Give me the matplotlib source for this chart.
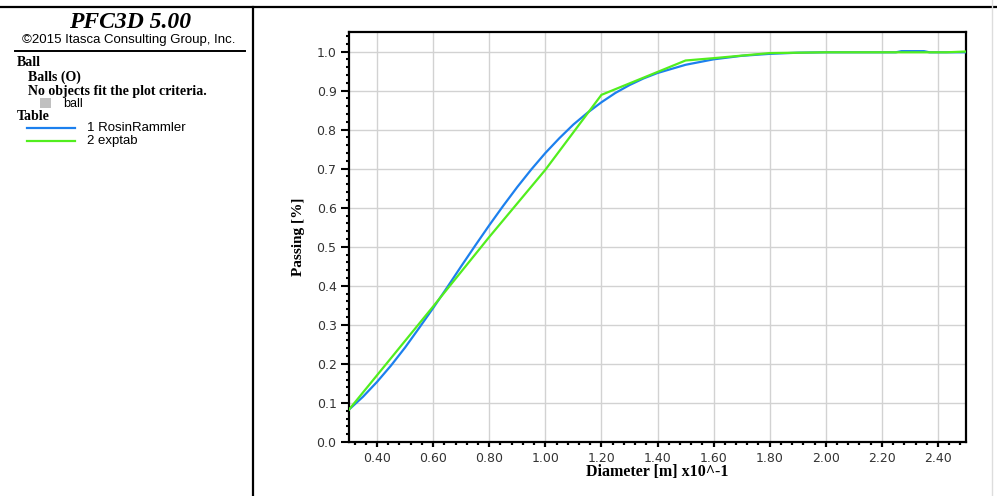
import matplotlib
matplotlib.use("Agg")
import matplotlib.pyplot as plt
from matplotlib.lines import Line2D
from matplotlib.patches import Rectangle
from matplotlib.ticker import MultipleLocator, FormatStrFormatter

# ---- data ----
rr_diam = [0.30, 0.35, 0.40, 0.45, 0.50, 0.55, 0.60, 0.65, 0.70, 0.75, 0.80,
           0.85, 0.90, 0.95, 1.00, 1.05, 1.10, 1.15, 1.20, 1.25, 1.30, 1.35,
           1.40, 1.50, 1.60, 1.70, 1.80, 1.90, 2.00, 2.25, 2.27, 2.35, 2.37,
           2.50]
rr_pass = [0.083, 0.116, 0.154, 0.196, 0.242, 0.292, 0.343, 0.396, 0.450,
           0.503, 0.555, 0.605, 0.653, 0.698, 0.740, 0.778, 0.813, 0.843,
           0.870, 0.894, 0.914, 0.931, 0.945, 0.966, 0.980, 0.989, 0.994,
           0.997, 0.998, 0.998, 1.001, 1.001, 0.998, 0.998]

exp_diam = [0.30, 0.60, 0.80, 1.00, 1.20, 1.50, 1.60, 1.80, 2.00, 2.43, 2.50]
exp_pass = [0.083, 0.347, 0.525, 0.697, 0.889, 0.977, 0.983, 0.996, 0.998,
            0.998, 1.000]

series_labels = ["1 RosinRammler", "2 exptab"]
x_label = "Diameter [m] x10^-1"
y_label = "Passing [%]"

blue = "#1c80ee"
green = "#52ee1e"

W, H = 997, 496
fig = plt.figure(figsize=(W / 100, H / 100), dpi=100)


def fx(px):
    return px / W


def fy(py):
    return 1 - py / H


ax = fig.add_axes([fx(349), fy(442), fx(966) - fx(349), fy(32) - fy(442)])
ax.plot(rr_diam, rr_pass, color=blue, lw=1.6, zorder=3)
ax.plot(exp_diam, exp_pass, color=green, lw=1.6, zorder=4)

ax.set_xlim(0.30, 2.50)
ax.set_ylim(0.0, 1.05)
ax.xaxis.set_major_locator(MultipleLocator(0.2))
ax.xaxis.set_minor_locator(MultipleLocator(0.04))
ax.yaxis.set_major_locator(MultipleLocator(0.1))
ax.yaxis.set_minor_locator(MultipleLocator(0.02))
ax.xaxis.set_major_formatter(FormatStrFormatter("%.2f"))
ax.yaxis.set_major_formatter(FormatStrFormatter("%.1f"))
ax.grid(True, which="major", color="#d2d2d2", lw=1.0)
ax.set_axisbelow(True)
for s in ax.spines.values():
    s.set_linewidth(1.6)
    s.set_color("black")

ax.tick_params(axis="y", which="major", direction="out", length=6, width=1.5,
               pad=3, labelsize=9, labelcolor="#333333")
ax.tick_params(axis="y", which="minor", direction="out", length=2.5, width=1.5)
ax.tick_params(axis="x", which="major", direction="out", length=3.5, width=1.6,
               pad=3.5, labelsize=9, labelcolor="#333333")
ax.tick_params(axis="x", which="minor", direction="out", length=2, width=1.6)

ax.set_xlabel(x_label, family="Liberation Serif", weight="bold", fontsize=11.5,
              va="center")
ax.xaxis.set_label_coords(0.5, (442 - 472) / 410)
ax.set_ylabel(y_label, family="Liberation Serif", weight="bold", fontsize=11,
              va="center")
ax.yaxis.set_label_coords((298 - 349) / 617, 0.5)

# ---- left info panel ----
tr = fig.transFigure
fig.add_artist(Line2D([fx(0), fx(W)], [fy(7), fy(7)], color="black", lw=1.6,
                      transform=tr))
fig.add_artist(Line2D([fx(253), fx(253)], [fy(7), fy(H)], color="black",
                      lw=1.6, transform=tr))
fig.add_artist(Line2D([fx(15), fx(245)], [fy(51), fy(51)], color="black",
                      lw=1.4, transform=tr))
fig.add_artist(Line2D([fx(992), fx(992)], [fy(0), fy(H)], color="#dddddd",
                      lw=1.0, transform=tr))

fig.text(fx(130), fy(23), "PFC3D 5.00", family="Liberation Serif",
         weight="bold", style="italic", fontsize=17, ha="center", va="center")
fig.text(fx(129), fy(40), "\u00a92015 Itasca Consulting Group, Inc.",
         family="Liberation Sans", fontsize=9.5, ha="center", va="center")

serif_kw = dict(family="Liberation Serif", weight="bold", fontsize=10,
                va="center", ha="left")
fig.text(fx(17), fy(62), "Ball", **serif_kw)
fig.text(fx(28), fy(77), "Balls (O)", **serif_kw)
fig.text(fx(28), fy(91), "No objects fit the plot criteria.", **serif_kw)
fig.add_artist(Rectangle((fx(40), fy(108)), fx(11), fy(98) - fy(108),
                         facecolor="#c0c0c0", edgecolor="none", transform=tr))
fig.text(fx(63), fy(104), "ball", family="Liberation Sans", fontsize=9,
         va="center", ha="left")
fig.text(fx(17), fy(117), "Table", **serif_kw)

fig.add_artist(Line2D([fx(27), fx(75)], [fy(128), fy(128)], color=blue,
                      lw=1.6, transform=tr))
fig.text(fx(87), fy(128), series_labels[0], family="Liberation Sans",
         fontsize=9.5, va="center", ha="left")
fig.add_artist(Line2D([fx(27), fx(75)], [fy(141), fy(141)], color=green,
                      lw=1.6, transform=tr))
fig.text(fx(87), fy(141), series_labels[1], family="Liberation Sans",
         fontsize=9.5, va="center", ha="left")

fig.savefig("out.png", dpi=100)
